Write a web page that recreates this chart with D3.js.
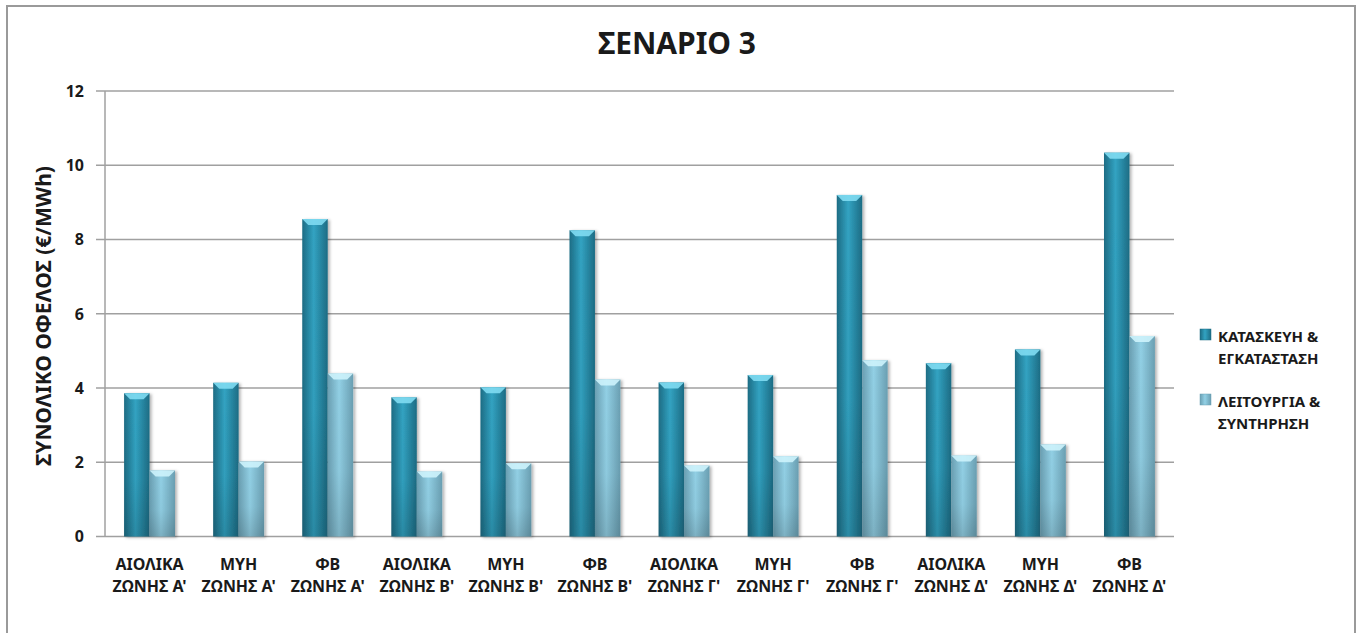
<!DOCTYPE html>
<html>
<head>
<meta charset="utf-8">
<script src="https://cdn.jsdelivr.net/npm/d3@7"></script>
<style>
  body { margin: 0; background: #fff; }
  svg text { font-family: "Noto Sans", "Open Sans", sans-serif; font-weight: 700; fill: #1a1a1a; }
</style>
</head>
<body>
<div id="chart"></div>
<script>
const categories = [
  ["ΑΙΟΛΙΚΑ", "ΖΩΝΗΣ Α'"], ["ΜΥΗ", "ΖΩΝΗΣ Α'"], ["ΦΒ", "ΖΩΝΗΣ Α'"],
  ["ΑΙΟΛΙΚΑ", "ΖΩΝΗΣ Β'"], ["ΜΥΗ", "ΖΩΝΗΣ Β'"], ["ΦΒ", "ΖΩΝΗΣ Β'"],
  ["ΑΙΟΛΙΚΑ", "ΖΩΝΗΣ Γ'"], ["ΜΥΗ", "ΖΩΝΗΣ Γ'"], ["ΦΒ", "ΖΩΝΗΣ Γ'"],
  ["ΑΙΟΛΙΚΑ", "ΖΩΝΗΣ Δ'"], ["ΜΥΗ", "ΖΩΝΗΣ Δ'"], ["ΦΒ", "ΖΩΝΗΣ Δ'"]
];
const construction = [3.86, 4.14, 8.55, 3.75, 4.02, 8.25, 4.15, 4.35, 9.2, 4.67, 5.04, 10.34];
const operation = [1.78, 2.02, 4.39, 1.75, 1.97, 4.23, 1.91, 2.16, 4.75, 2.18, 2.48, 5.4];
const seriesNames = [["ΚΑΤΑΣΚΕΥΗ &", "ΕΓΚΑΤΑΣΤΑΣΗ"], ["ΛΕΙΤΟΥΡΓΙΑ &", "ΣΥΝΤΗΡΗΣΗ"]];
const yTicks = [0, 2, 4, 6, 8, 10, 12];

const width = 1362, height = 633;
const plotLeft = 105, plotRight = 1174, plotTop = 91, plotBottom = 536.5;

const svg = d3.select("#chart").append("svg")
  .attr("width", width)
  .attr("height", height);

const defs = svg.append("defs");

// bar shading, dark edges and lighter middle
const palettes = [
  { id: "g0", edge: "#1d6c84", mid: "#32a3c2", bevel: "#7fdcf2" },
  { id: "g1", edge: "#6a9fb2", mid: "#92d0e5", bevel: "#cdf3fc" }
];
palettes.forEach(p => {
  const g = defs.append("linearGradient").attr("id", p.id).attr("x1", 0).attr("x2", 1).attr("y1", 0).attr("y2", 0);
  g.append("stop").attr("offset", "0%").attr("stop-color", p.edge);
  g.append("stop").attr("offset", "45%").attr("stop-color", p.mid);
  g.append("stop").attr("offset", "100%").attr("stop-color", p.edge);
});
const shade = defs.append("linearGradient").attr("id", "shade").attr("x1", 0).attr("x2", 0).attr("y1", 0).attr("y2", 1);
shade.append("stop").attr("offset", "0%").attr("stop-color", "#000").attr("stop-opacity", 0);
shade.append("stop").attr("offset", "60%").attr("stop-color", "#000").attr("stop-opacity", 0.03);
shade.append("stop").attr("offset", "100%").attr("stop-color", "#000").attr("stop-opacity", 0.15);

const filter = defs.append("filter").attr("id", "shadow").attr("x", "-20%").attr("y", "-5%").attr("width", "150%").attr("height", "115%");
filter.append("feDropShadow").attr("dx", 2).attr("dy", 1).attr("stdDeviation", 1.5).attr("flood-color", "#000").attr("flood-opacity", 0.3);

// outer frame
svg.append("rect")
  .attr("x", 7).attr("y", 6)
  .attr("width", 1348).attr("height", 700)
  .attr("fill", "none")
  .attr("stroke", "#9a9a9a")
  .attr("stroke-width", 2);

const x0 = d3.scaleBand()
  .domain(d3.range(categories.length))
  .range([plotLeft, plotRight]);

const x1 = d3.scaleBand()
  .domain([0, 1])
  .range([0, x0.bandwidth()])
  .paddingOuter(0.75);

const y = d3.scaleLinear()
  .domain([0, 12])
  .range([plotBottom, plotTop]);

// gridlines
svg.append("g")
  .selectAll("line")
  .data(yTicks)
  .join("line")
    .attr("x1", plotLeft - 9)
    .attr("x2", plotRight)
    .attr("y1", d => y(d))
    .attr("y2", d => y(d))
    .attr("stroke", "#a0a0a0")
    .attr("stroke-width", 1.5);

svg.append("line")
  .attr("x1", plotLeft).attr("x2", plotLeft)
  .attr("y1", plotTop).attr("y2", plotBottom)
  .attr("stroke", "#a0a0a0")
  .attr("stroke-width", 1.5);

svg.append("g")
  .selectAll("text")
  .data(yTicks)
  .join("text")
    .attr("x", 84)
    .attr("y", d => y(d))
    .attr("dy", "0.36em")
    .attr("text-anchor", "end")
    .style("font-size", "16px")
    .text(d => d);

// bars
const series = [construction, operation];
series.forEach((vals, s) => {
  const p = palettes[s];
  const g = svg.append("g").attr("class", "series-" + s);
  vals.forEach((v, i) => {
    const bx = x0(i) + x1(s);
    const bw = x1.bandwidth();
    const by = y(v);
    const bh = y(0) - y(v);
    const bar = g.append("g").attr("filter", "url(#shadow)");
    bar.append("rect")
      .attr("x", bx).attr("y", by)
      .attr("width", bw).attr("height", bh)
      .attr("fill", `url(#${p.id})`);
    bar.append("rect")
      .attr("x", bx).attr("y", by)
      .attr("width", bw).attr("height", bh)
      .attr("fill", "url(#shade)");
    bar.append("polygon")
      .attr("points", [[bx, by], [bx + bw, by], [bx + bw - 6, by + 6], [bx + 6, by + 6]].map(d => d.join(",")).join(" "))
      .attr("fill", p.bevel)
      .attr("opacity", 0.9);
  });
});

// category labels
const xl = svg.append("g");
categories.forEach((c, i) => {
  const cx = x0(i) + x0.bandwidth() / 2;
  c.forEach((line, k) => {
    xl.append("text")
      .attr("x", cx)
      .attr("y", 570 + k * 22)
      .attr("text-anchor", "middle")
      .style("font-size", "16px")
      .text(line);
  });
});

// title
svg.append("text")
  .attr("x", 677)
  .attr("y", 54)
  .attr("text-anchor", "middle")
  .style("font-size", "30px")
  .text("ΣΕΝΑΡΙΟ 3");

// y axis title
svg.append("text")
  .attr("transform", `translate(51, 316) rotate(-90)`)
  .attr("text-anchor", "middle")
  .style("font-size", "21px")
  .text("ΣΥΝΟΛΙΚΟ ΟΦΕΛΟΣ (€/MWh)");

// legend
const legend = svg.append("g");
seriesNames.forEach((name, s) => {
  const ly = 329 + s * 65;
  legend.append("rect")
    .attr("x", 1200).attr("y", ly)
    .attr("width", 11).attr("height", 11)
    .attr("fill", `url(#${palettes[s].id})`)
    .attr("stroke", palettes[s].edge)
    .attr("stroke-width", 0.5);
  name.forEach((line, k) => {
    legend.append("text")
      .attr("x", 1218)
      .attr("y", ly + 13 + k * 22)
      .style("font-size", "15px")
      .text(line);
  });
});
</script>
</body>
</html>
